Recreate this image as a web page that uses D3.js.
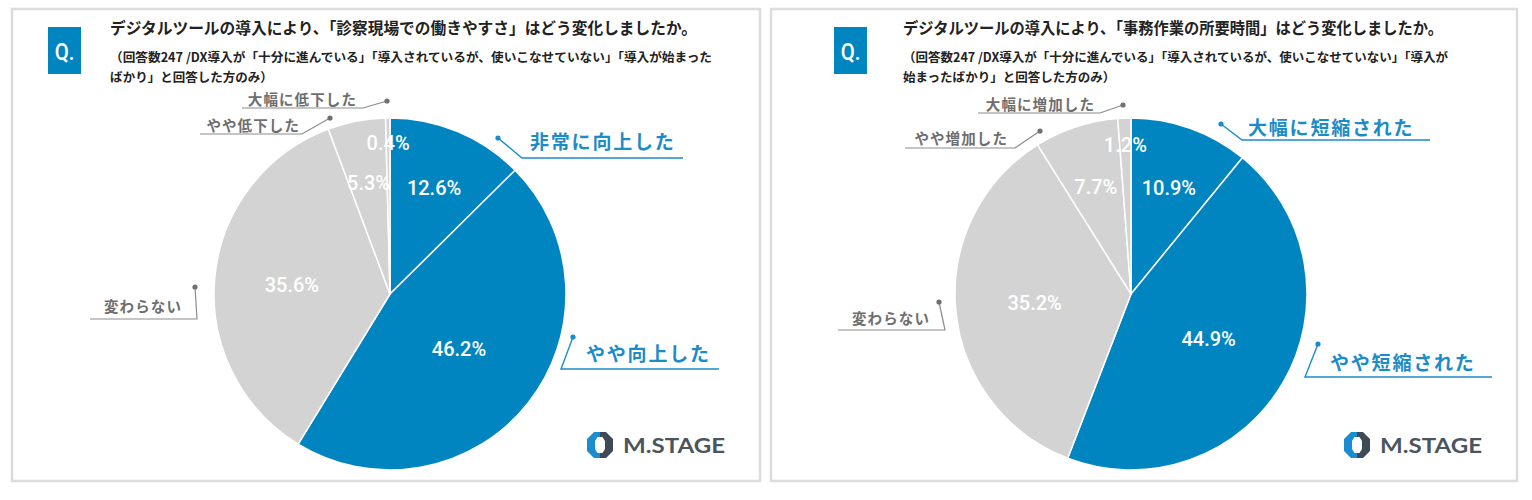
<!DOCTYPE html>
<html><head><meta charset="utf-8">
<script src="https://cdn.jsdelivr.net/npm/d3@7"></script>
<style>html,body{margin:0;padding:0;background:#fff;} svg{display:block}</style>
</head><body>
<svg id="c" width="1532" height="500"></svg>
<script>
// ---------- data ----------
const titleA = "デジタルツールの導入により、「診察現場での働きやすさ」はどう変化しましたか。";
const noteA = ["（回答数247 /DX導入が「十分に進んでいる」「導入されているが、使いこなせていない」「導入が始まった", "ばかり」と回答した方のみ）"];
const categoriesA = ["非常に向上した", "やや向上した", "変わらない", "やや低下した", "大幅に低下した"];
const valuesA = [12.6, 46.2, 35.6, 5.3, 0.4];

const titleB = "デジタルツールの導入により、「事務作業の所要時間」はどう変化しましたか。";
const noteB = ["（回答数247 /DX導入が「十分に進んでいる」「導入されているが、使いこなせていない」「導入が", "始まったばかり」と回答した方のみ）"];
const categoriesB = ["大幅に短縮された", "やや短縮された", "変わらない", "やや増加した", "大幅に増加した"];
const valuesB = [10.9, 44.9, 35.2, 7.7, 1.2];

const positiveFlags = [true, true, false, false, false];
const qLabel = "Q.";
const logoText = "M.STAGE";

// ---------- layout / style ----------
const BLUE = "#0085c1", GRAY = "#d3d3d3", LBLUE = "#1b8cc8", TXTGRAY = "#6e6e6e";
const R = 176;
const panels = [
  { x: 12, y: 9, w: 748, h: 472, qx: 48, tx: 110, titleW: 587, noteW: 602, cx: 390, cy: 294,
    title: titleA, note: noteA, cats: categoriesA, vals: valuesA,
    labelR: [0.65, 0.50, 0.56, 0.64, 0.86],
    callouts: [
      { dot: [108, -156], elbow: [132, -136], end: 293, tx: 140, ty: -154 },
      { dot: [183, 43], elbow: [171, 75], end: 329, tx: 196, ty: 58 },
      { dot: [-195, -7], elbow: [-193, 25], end: -300, tx: -208, ty: 11 },
      { dot: [-60, -176], elbow: [-88, -160], end: -190, tx: -90, ty: -170 },
      { dot: [-3, -193], elbow: [-27, -186], end: -148, tx: -33, ty: -196 }
    ] },
  { x: 771, y: 9, w: 746, h: 472, qx: 834, tx: 903, titleW: 540, noteW: 545, cx: 1131, cy: 294,
    title: titleB, note: noteB, cats: categoriesB, vals: valuesB,
    labelR: [0.64, 0.51, 0.55, 0.64, 0.85],
    callouts: [
      { dot: [90, -170], elbow: [111, -154], end: 299, tx: 117, ty: -168 },
      { dot: [187, 50], elbow: [174, 83], end: 361, tx: 199, ty: 67 },
      { dot: [-192, 8], elbow: [-186, 36], end: -293, tx: -201, ty: 23 },
      { dot: [-91, -163], elbow: [-116, -146], end: -226, tx: -123, ty: -157 },
      { dot: [-8, -189], elbow: [-31, -181], end: -153, tx: -36, ty: -191 }
    ] }
];

const JP = "'Noto Sans CJK JP','Noto Sans',sans-serif";
const svg = d3.select("#c");
const pie = d3.pie().sort(null).value(d => d);
const arc = d3.arc().innerRadius(0).outerRadius(R);
const fmt = d3.format(".1f");

panels.forEach(p => {
  // frame
  svg.append("rect").attr("x", p.x).attr("y", p.y).attr("width", p.w).attr("height", p.h)
    .attr("fill", "#fff").attr("stroke", "#dcdcdc").attr("stroke-width", 2.5);

  // Q box
  svg.append("rect").attr("x", p.qx).attr("y", 27).attr("width", 33).attr("height", 47).attr("fill", BLUE);
  svg.append("text").attr("transform", `translate(${p.qx + 16.5},51) scale(0.85,1)`)
    .attr("text-anchor", "middle")
    .attr("dominant-baseline", "central").attr("fill", "#fff")
    .style("font-family", "'Roboto',sans-serif").style("font-weight", 500).style("font-size", "24px")
    .text(qLabel);

  // title & note
  svg.append("text").attr("x", p.tx).attr("y", 27).attr("dominant-baseline", "central")
    .attr("textLength", p.titleW).attr("lengthAdjust", "spacingAndGlyphs")
    .attr("fill", "#222").style("font-family", JP).style("font-weight", 700).style("font-size", "16px")
    .text(p.title);
  p.note.forEach((line, i) => {
    const t = svg.append("text").attr("x", p.tx).attr("y", 56 + i * 20).attr("dominant-baseline", "central")
      .attr("fill", "#222").style("font-family", JP).style("font-weight", 700).style("font-size", "12.5px")
      .text(line);
    if (i === 0) t.attr("textLength", p.noteW).attr("lengthAdjust", "spacingAndGlyphs");
  });

  // pie
  const g = svg.append("g").attr("transform", `translate(${p.cx},${p.cy})`);
  const arcs = pie(p.vals);
  g.selectAll("path.slice").data(arcs).join("path").attr("class", "slice")
    .attr("d", arc).attr("fill", (d, i) => positiveFlags[i] ? BLUE : GRAY)
    .attr("stroke", "#fff").attr("stroke-width", 1.5).attr("stroke-linejoin", "round");

  g.selectAll("text.pct").data(arcs).join("text").attr("class", "pct")
    .attr("transform", (d, i) => {
      const a = (d.startAngle + d.endAngle) / 2, r = R * p.labelR[i];
      return `translate(${Math.sin(a) * r},${-Math.cos(a) * r})`;
    })
    .attr("text-anchor", "middle").attr("dominant-baseline", "central").attr("fill", "#fff")
    .style("font-family", "'Roboto',sans-serif").style("font-size", "20px").style("font-weight", 500)
    .text(d => fmt(d.data) + "%");

  // callouts
  p.callouts.forEach((c, i) => {
    const pos = positiveFlags[i];
    const col = pos ? LBLUE : "#8c8c8c";
    g.append("path")
      .attr("d", d3.line()([c.dot, c.elbow, [c.end, c.elbow[1]]]))
      .attr("fill", "none").attr("stroke", col).attr("stroke-width", pos ? 1.4 : 1.2);
    g.append("circle").attr("cx", c.dot[0]).attr("cy", c.dot[1]).attr("r", 2.6)
      .attr("fill", pos ? LBLUE : "#707070");
    g.append("text").attr("x", c.tx).attr("y", c.ty).attr("dominant-baseline", "central")
      .attr("text-anchor", pos ? "start" : "end")
      .attr("fill", pos ? LBLUE : TXTGRAY)
      .style("font-family", JP).style("font-weight", 700)
      .style("font-size", pos ? "19px" : "14.5px")
      .style("letter-spacing", pos ? "1.8px" : "1.1px")
      .text(p.cats[i]);
  });

  // logo
  const lx = p.x + p.w - 173, ly = 432;
  const lg = svg.append("g").attr("transform", `translate(${lx},${ly})`);
  const oct = "M7,0 L19,0 L26,7 L26,19 L19,26 L7,26 L0,19 L0,7 Z M10.5,5 L15.5,5 L18,9 L18,17 L15.5,21 L10.5,21 L8,17 L8,9 Z";
  const cid = "clipL" + p.x, cid2 = "clipR" + p.x;
  const defs = svg.append("defs");
  defs.append("clipPath").attr("id", cid).append("rect").attr("x", 0).attr("y", 0).attr("width", 13).attr("height", 26);
  defs.append("clipPath").attr("id", cid2).append("rect").attr("x", 13).attr("y", 0).attr("width", 13).attr("height", 26);
  lg.append("path").attr("d", oct).attr("fill-rule", "evenodd").attr("fill", "#1a8dd0").attr("clip-path", `url(#${cid})`);
  lg.append("path").attr("d", oct).attr("fill-rule", "evenodd").attr("fill", "#3e4a55").attr("clip-path", `url(#${cid2})`);
  lg.append("text").attr("x", 36).attr("y", 13).attr("dominant-baseline", "central")
    .attr("textLength", 102).attr("lengthAdjust", "spacingAndGlyphs")
    .attr("fill", "#4a5560").style("font-family", "'Lato','Roboto',sans-serif").style("font-weight", 700)
    .style("font-size", "20px").text(logoText);
});
</script>
</body></html>
